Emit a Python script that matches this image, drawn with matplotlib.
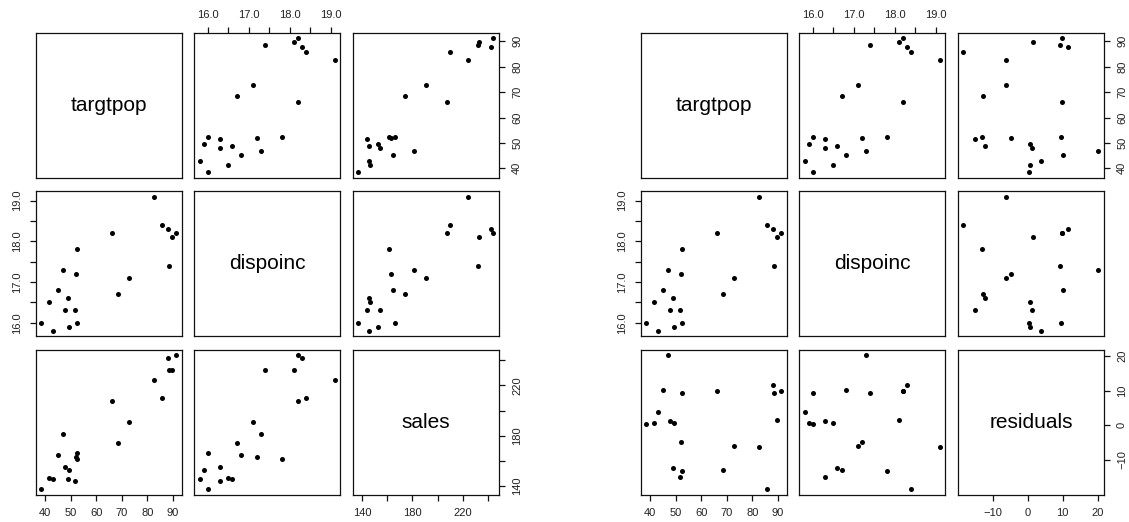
import matplotlib.pyplot as plt

plt.rcParams['font.family'] = ['Liberation Sans', 'DejaVu Sans']

# Dwaine Studios data: target population, disposable income, sales
targtpop = [68.5, 45.2, 91.3, 47.8, 46.9, 66.1, 49.5, 52.0, 48.9, 38.4, 87.9,
            72.8, 88.4, 42.9, 52.5, 85.7, 41.3, 51.7, 89.6, 82.7, 52.3]
dispoinc = [16.7, 16.8, 18.2, 16.3, 17.3, 18.2, 15.9, 17.2, 16.6, 16.0, 18.3,
            17.1, 17.4, 15.8, 17.8, 18.4, 16.5, 16.3, 18.1, 19.1, 16.0]
sales = [174.4, 164.4, 244.2, 154.6, 181.6, 207.5, 152.8, 163.2, 145.4, 137.2, 241.9,
         191.1, 232.0, 145.3, 161.1, 209.7, 146.4, 144.0, 232.6, 224.1, 166.5]
# residuals of sales ~ targtpop + dispoinc
residuals = [-12.78, 10.17, 9.80, 1.27, 20.22, 9.76, 0.74, -4.67, -12.34, 0.35, 11.51,
             -6.09, 9.31, 3.78, -13.12, -18.43, 0.65, -15.00, 1.61, -6.22, 9.43]

# axis ticks and their labels (R drops labels that would overlap)
targtpop_ticks = [40, 50, 60, 70, 80, 90]
targtpop_labels = ['40', '50', '60', '70', '80', '90']
dispoinc_ticks = [16.0, 16.5, 17.0, 17.5, 18.0, 18.5, 19.0]
dispoinc_labels = ['16.0', '', '17.0', '', '18.0', '', '19.0']
sales_ticks = [140, 160, 180, 200, 220, 240]
sales_labels = ['140', '', '180', '', '220', '']
resid_ticks = [-10, 0, 10, 20]
resid_labels = ['\u221210', '0', '10', '20']

W, H = 1129, 522
fig = plt.figure(figsize=(W / 100, H / 100), dpi=100)

PW, PH = 146, 145
STEP_X, STEP_Y = 158.6, 158.5
TOP = 32.7


def lims(v):
    lo, hi = min(v), max(v)
    pad = 0.04 * (hi - lo)
    return lo - pad, hi + pad


def pairs(x0, names, data, ticks, labels):
    for i in range(3):
        for j in range(3):
            left = x0 + j * STEP_X
            top = TOP + i * STEP_Y
            ax = fig.add_axes([left / W, 1 - (top + PH) / H, PW / W, PH / H])
            ax.set_xlim(*lims(data[j]))
            ax.set_ylim(*lims(data[i]))
            for s in ax.spines.values():
                s.set_linewidth(0.9)
                s.set_color('#111111')
            if i == j:
                ax.text(0.5, 0.5, names[i], transform=ax.transAxes,
                        ha='center', va='center', fontsize=15)
            else:
                ax.scatter(data[j], data[i], s=13, color='black', linewidths=0)

            ax.tick_params(bottom=False, top=False, left=False, right=False,
                           labelbottom=False, labeltop=False,
                           labelleft=False, labelright=False,
                           length=4, width=0.9, color='#111111',
                           labelsize=8, labelcolor='#222222')
            ax.set_xticks(ticks[j])
            ax.set_xticklabels(labels[j])
            ax.set_yticks(ticks[i])
            ax.set_yticklabels(labels[i])

            # x axes: odd columns at bottom of last row, even column on top of first row
            if i == 2 and j % 2 == 0:
                ax.tick_params(axis='x', bottom=True, labelbottom=True, pad=5.5)
            if i == 0 and j % 2 == 1:
                ax.tick_params(axis='x', top=True, labeltop=True, pad=5.5)
            # y axes: odd rows on the right of last column, even row on the left
            if j == 2 and i % 2 == 0:
                ax.tick_params(axis='y', right=True, labelright=True,
                               labelrotation=90, pad=5.5)
                for t in ax.get_yticklabels():
                    t.set_va('center')
            if j == 0 and i % 2 == 1:
                ax.tick_params(axis='y', left=True, labelleft=True,
                               labelrotation=90, pad=5.5)
                for t in ax.get_yticklabels():
                    t.set_va('center')


pairs(35.7, ['targtpop', 'dispoinc', 'sales'],
      [targtpop, dispoinc, sales],
      [targtpop_ticks, dispoinc_ticks, sales_ticks],
      [targtpop_labels, dispoinc_labels, sales_labels])

pairs(640.7, ['targtpop', 'dispoinc', 'residuals'],
      [targtpop, dispoinc, residuals],
      [targtpop_ticks, dispoinc_ticks, resid_ticks],
      [targtpop_labels, dispoinc_labels, resid_labels])

fig.savefig('out.png', dpi=100)
